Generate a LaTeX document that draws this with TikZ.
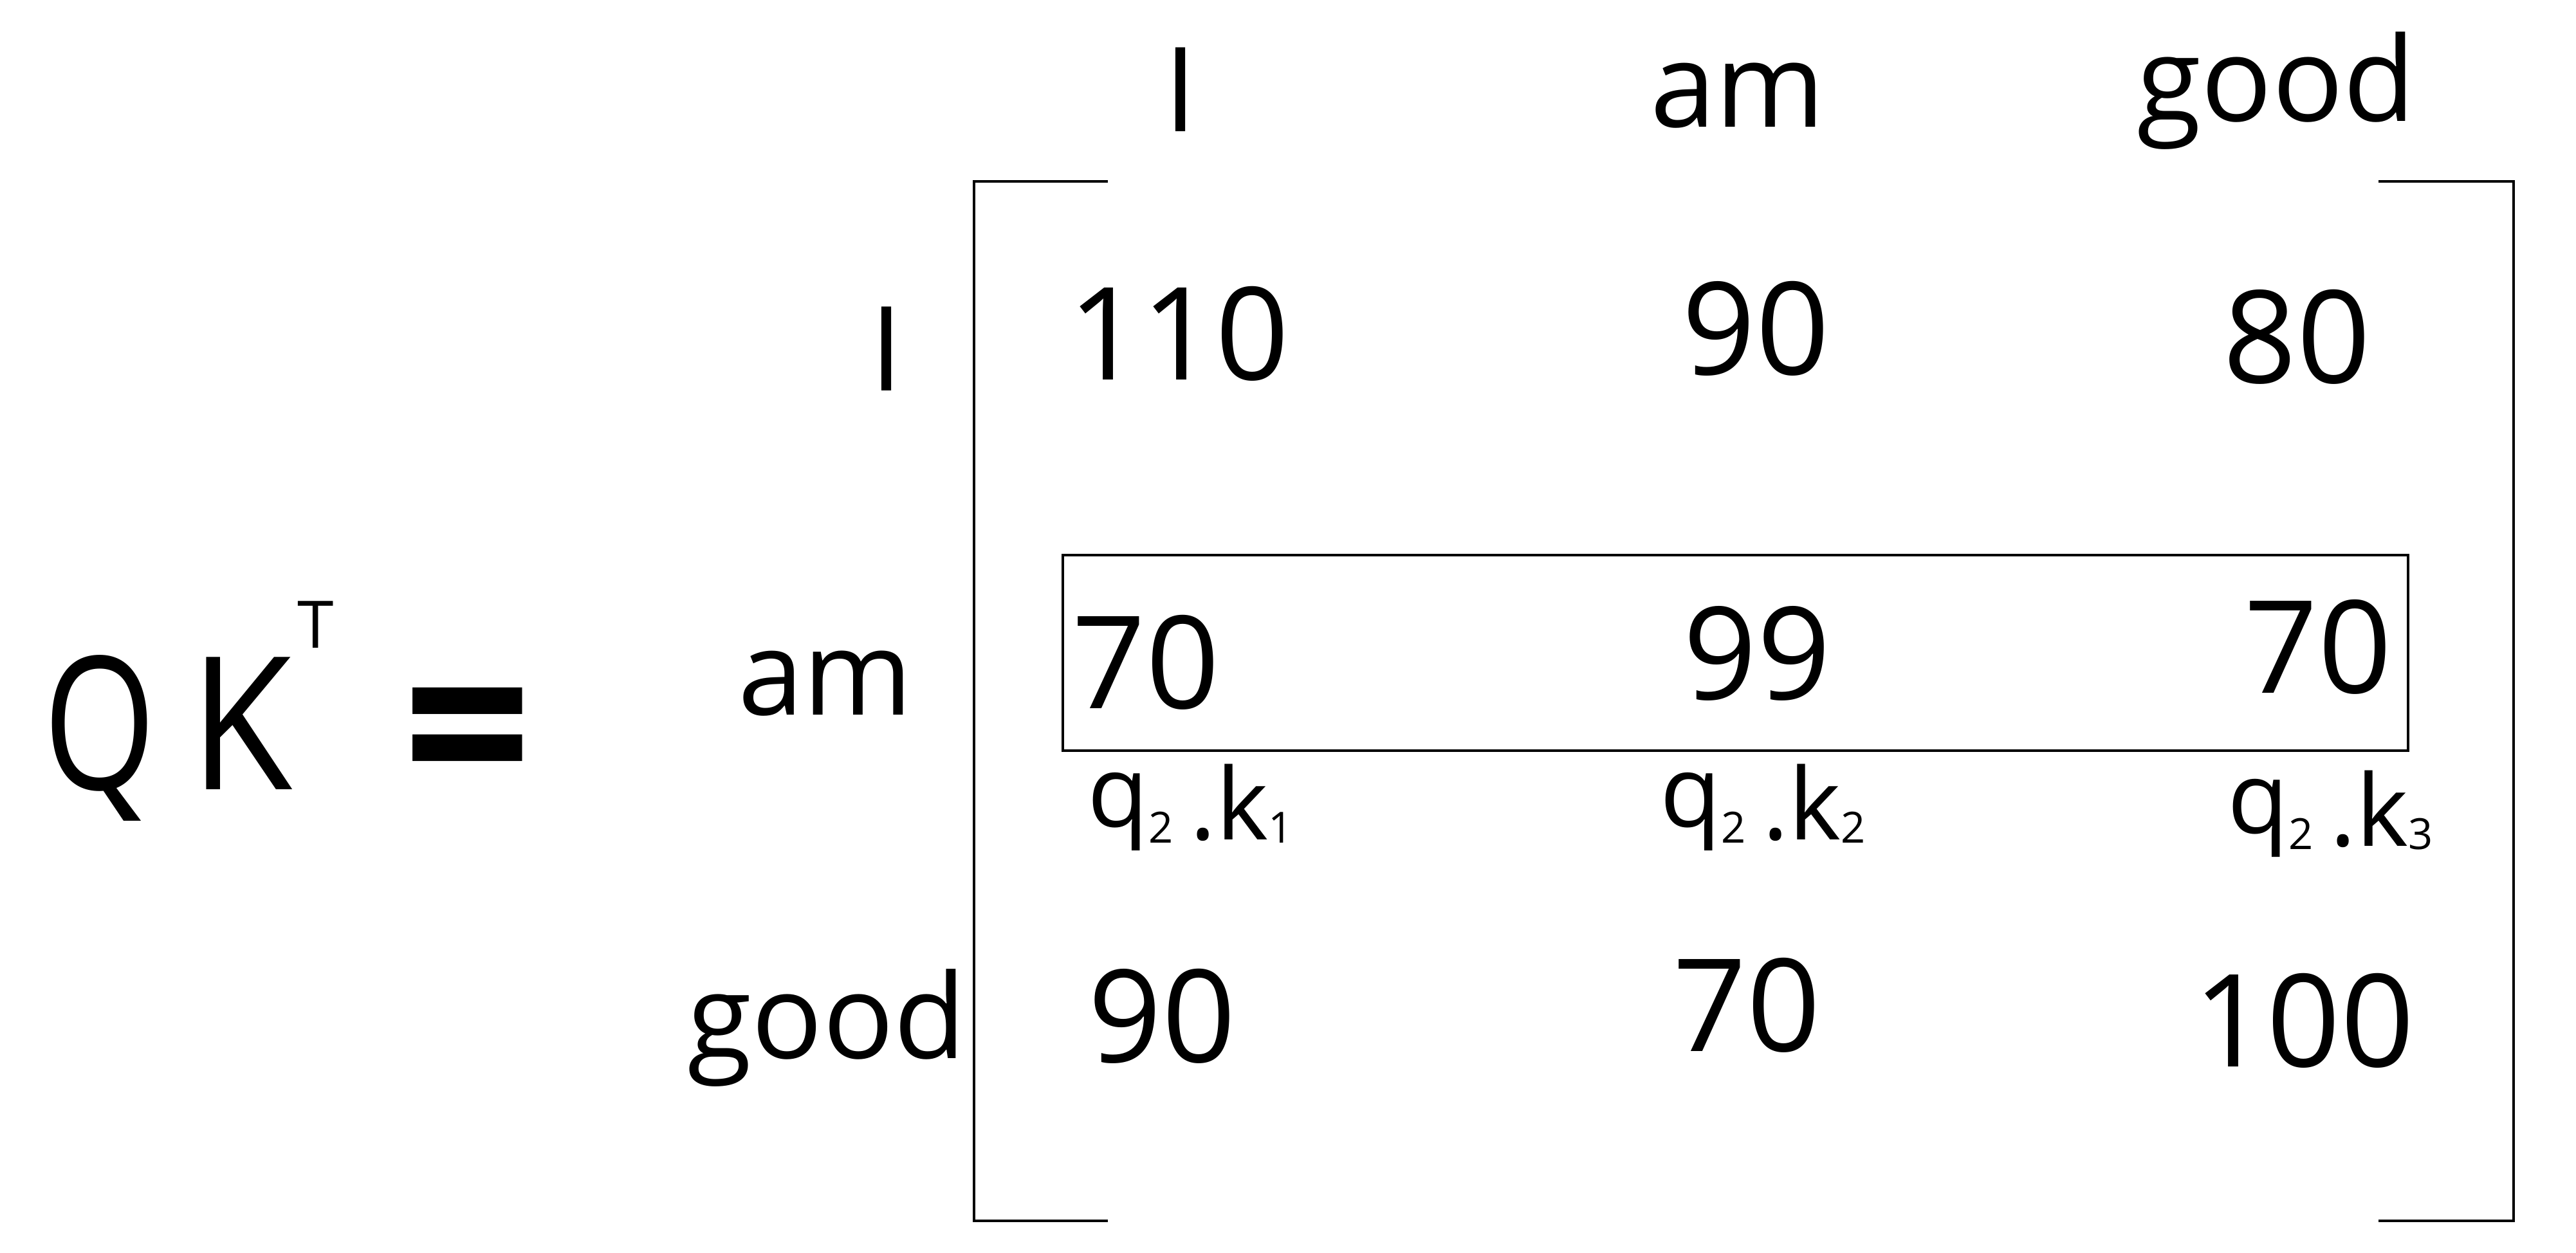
\documentclass[tikz,border=0pt]{standalone}
\usepackage{fontspec}
\setmainfont{Open Sans}
\begin{document}
\begin{tikzpicture}[x=1cm,y=-1cm,
  word/.style={font=\fontsize{52}{60}\selectfont,inner sep=0pt,anchor=base},
  num/.style={font=\fontsize{57}{60}\selectfont,inner sep=0pt,anchor=base},
  prod/.style={font=\fontsize{44}{50}\selectfont,inner sep=0pt,anchor=base},
  big/.style={font=\fontsize{82}{90}\selectfont,inner sep=0pt,anchor=base},
  bracket/.style={line width=1pt}]
\useasboundingbox (0,0) rectangle (40.04,19.47);
\def\sub#1{\raisebox{-0.25cm}{\fontsize{19}{20}\selectfont #1}}
% left hand side
\node[big,xscale=0.78] (q) at (1.55,12.27) {Q};
\node[big,xscale=0.9] (k) at (3.75,12.27) {K};
\node[font=\fontsize{29}{30}\selectfont,inner sep=0pt,anchor=base] (t) at (4.91,10.07) {T};
\node[big,font=\fontsize{100}{100}\bfseries,yscale=1.1] (eq) at (7.27,12.62) {=};
% column and row words
\foreach\x/\y/\t/\n in {18.35/2.04/I/cI,27.01/1.97/am/cam,35.38/1.88/good/cgood} {
  \node[word] (\n) at (\x,\y) {\t};
}
\foreach\x/\y/\t/\n in {13.78/6.07/I/rI,12.83/11.11/am/ram,12.85/16.45/good/rgood} {
  \node[word] (\n) at (\x,\y) {\t};
}
% matrix entries
\foreach\x/\y/\t/\n in {18.32/5.90/110/a11,27.29/5.82/90/a12,35.70/5.95/80/a13,
  17.81/11.01/70/a21,27.31/10.87/99/a22,36.03/10.77/70/a23,
  18.06/16.51/90/a31,27.15/16.34/70/a32,35.81/16.58/100/a33} {
  \node[num] (\n) at (\x,\y) {\t};
}
\foreach\x/\y/\i in {18.50/12.85/1,27.40/12.85/2,36.22/12.95/3} {
  \node[prod] (p\i) at (\x,\y) {q\sub{2}\,\raisebox{-0.2cm}{.k}\sub{\i}};
}
% brackets and highlighted row
\draw[bracket] (17.22,2.82) -| (15.14,18.98) -- (17.22,18.98);
\draw[bracket] (36.97,2.82) -| (39.07,18.98) -- (36.97,18.98);
\draw[bracket] (16.52,8.63) rectangle (37.43,11.67);
\end{tikzpicture}
\end{document}
